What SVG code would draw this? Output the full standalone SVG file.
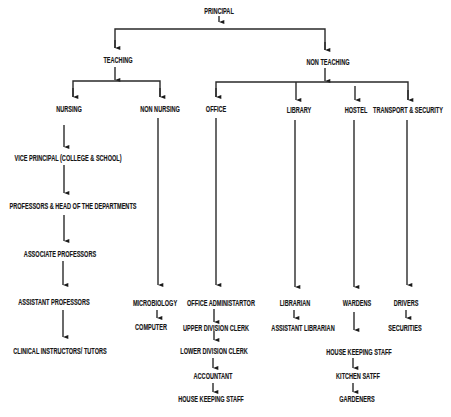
<svg xmlns="http://www.w3.org/2000/svg" width="451" height="417" viewBox="0 0 451 417">
<defs>
<marker id="ah" viewBox="0 0 6 8" refX="3" refY="8" markerWidth="4" markerHeight="6" orient="auto-start-reverse" markerUnits="userSpaceOnUse">
<path d="M0,0 L6,0 L3,8 Z" fill="#1a1a1a"/>
</marker>
<style>
text{font-family:"Liberation Sans",Arial,sans-serif;font-size:9px;font-weight:bold;fill:#161616;stroke:#161616;stroke-width:0.15;text-anchor:middle}
.c line,.c path{stroke:#2a2a2a;stroke-width:1.4;fill:none}
.a{marker-end:url(#ah)}
</style>
</defs>
<rect width="451" height="417" fill="#fff"/>
<g class="c" id="connectors">
<line class="a" x1="219" y1="16" x2="219" y2="22"/>
<path d="M115,48 V29 H325 V50"/>
<line class="a" x1="115" y1="40" x2="115" y2="48"/>
<line class="a" x1="325" y1="42" x2="325" y2="50"/>
<line class="a" x1="115" y1="67" x2="115" y2="80"/>
<path d="M73,97 V81 H160 V97"/>
<line class="a" x1="73" y1="88" x2="73" y2="97"/>
<line class="a" x1="160" y1="88" x2="160" y2="97"/>
<line class="a" x1="325" y1="68" x2="325" y2="81"/>
<path d="M216,97 V82 H408 V100"/>
<line class="a" x1="216" y1="88" x2="216" y2="97"/>
<line class="a" x1="296" y1="82" x2="296" y2="100"/>
<line class="a" x1="355" y1="86" x2="355" y2="100"/>
<line class="a" x1="408" y1="90" x2="408" y2="100"/>
<line class="a" x1="64" y1="125" x2="64" y2="147"/>
<line class="a" x1="64" y1="165" x2="64" y2="193"/>
<line class="a" x1="64" y1="215" x2="64" y2="241"/>
<line class="a" x1="63" y1="261" x2="63" y2="285"/>
<line class="a" x1="63" y1="310" x2="63" y2="337"/>
<line class="a" x1="158" y1="118" x2="158" y2="285"/>
<line class="a" x1="157" y1="310" x2="157" y2="318"/>
<line class="a" x1="216" y1="118" x2="216" y2="285"/>
<line class="a" x1="214" y1="309" x2="214" y2="322"/>
<line class="a" x1="214" y1="331" x2="214" y2="340"/>
<line class="a" x1="213" y1="358" x2="213" y2="368"/>
<line class="a" x1="213" y1="383" x2="213" y2="392"/>
<line class="a" x1="295" y1="120" x2="295" y2="287"/>
<line class="a" x1="294" y1="310" x2="294" y2="318"/>
<line class="a" x1="354" y1="120" x2="354" y2="287"/>
<line class="a" x1="354" y1="312" x2="354" y2="330"/>
<line class="a" x1="353" y1="358" x2="353" y2="368"/>
<line class="a" x1="353" y1="383" x2="353" y2="392"/>
<line class="a" x1="407" y1="120" x2="407" y2="285"/>
<line class="a" x1="406" y1="310" x2="406" y2="318"/>
</g>
<g id="principal"><text transform="translate(219 14) scale(0.62 1)">PRINCIPAL</text></g>
<g id="teaching"><text transform="translate(118 63) scale(0.62 1)">TEACHING</text></g>
<g id="non-teaching"><text transform="translate(328 65) scale(0.62 1)">NON TEACHING</text></g>
<g id="nursing"><text transform="translate(69 112) scale(0.62 1)">NURSING</text></g>
<g id="non-nursing"><text transform="translate(160 112) scale(0.62 1)">NON NURSING</text></g>
<g id="office"><text transform="translate(216 112) scale(0.62 1)">OFFICE</text></g>
<g id="library"><text transform="translate(299 113) scale(0.62 1)">LIBRARY</text></g>
<g id="hostel"><text transform="translate(356 113) scale(0.62 1)">HOSTEL</text></g>
<g id="transport"><text transform="translate(408 113) scale(0.62 1)">TRANSPORT &amp; SECURITY</text></g>
<g id="vice-principal"><text transform="translate(68 161) scale(0.62 1)">VICE PRINCIPAL (COLLEGE &amp; SCHOOL)</text></g>
<g id="professors"><text transform="translate(73 209) scale(0.62 1)">PROFESSORS &amp; HEAD OF THE DEPARTMENTS</text></g>
<g id="associate"><text transform="translate(60 257) scale(0.62 1)">ASSOCIATE PROFESSORS</text></g>
<g id="assistant"><text transform="translate(54 305) scale(0.62 1)">ASSISTANT PROFESSORS</text></g>
<g id="clinical"><text transform="translate(60 354) scale(0.62 1)">CLINICAL INSTRUCTORS/ TUTORS</text></g>
<g id="microbiology"><text transform="translate(155 306) scale(0.62 1)">MICROBIOLOGY</text></g>
<g id="computer"><text transform="translate(151 330) scale(0.62 1)">COMPUTER</text></g>
<g id="office-admin"><text transform="translate(221 306) scale(0.62 1)">OFFICE ADMINISTARTOR</text></g>
<g id="udc"><text transform="translate(216 331) scale(0.62 1)">UPPER DIVISION CLERK</text></g>
<g id="ldc"><text transform="translate(214 354) scale(0.62 1)">LOWER DIVISION CLERK</text></g>
<g id="accountant"><text transform="translate(213 379) scale(0.62 1)">ACCOUNTANT</text></g>
<g id="hk-office"><text transform="translate(211 402) scale(0.62 1)">HOUSE KEEPING STAFF</text></g>
<g id="librarian"><text transform="translate(295 306) scale(0.62 1)">LIBRARIAN</text></g>
<g id="asst-librarian"><text transform="translate(303 331) scale(0.62 1)">ASSISTANT LIBRARIAN</text></g>
<g id="wardens"><text transform="translate(357 306) scale(0.62 1)">WARDENS</text></g>
<g id="hk-hostel"><text transform="translate(359 355) scale(0.62 1)">HOUSE KEEPING STAFF</text></g>
<g id="kitchen"><text transform="translate(358 379) scale(0.62 1)">KITCHEN SATFF</text></g>
<g id="gardeners"><text transform="translate(357 402) scale(0.62 1)">GARDENERS</text></g>
<g id="drivers"><text transform="translate(406 306) scale(0.62 1)">DRIVERS</text></g>
<g id="securities"><text transform="translate(405 331) scale(0.62 1)">SECURITIES</text></g>
</svg>
